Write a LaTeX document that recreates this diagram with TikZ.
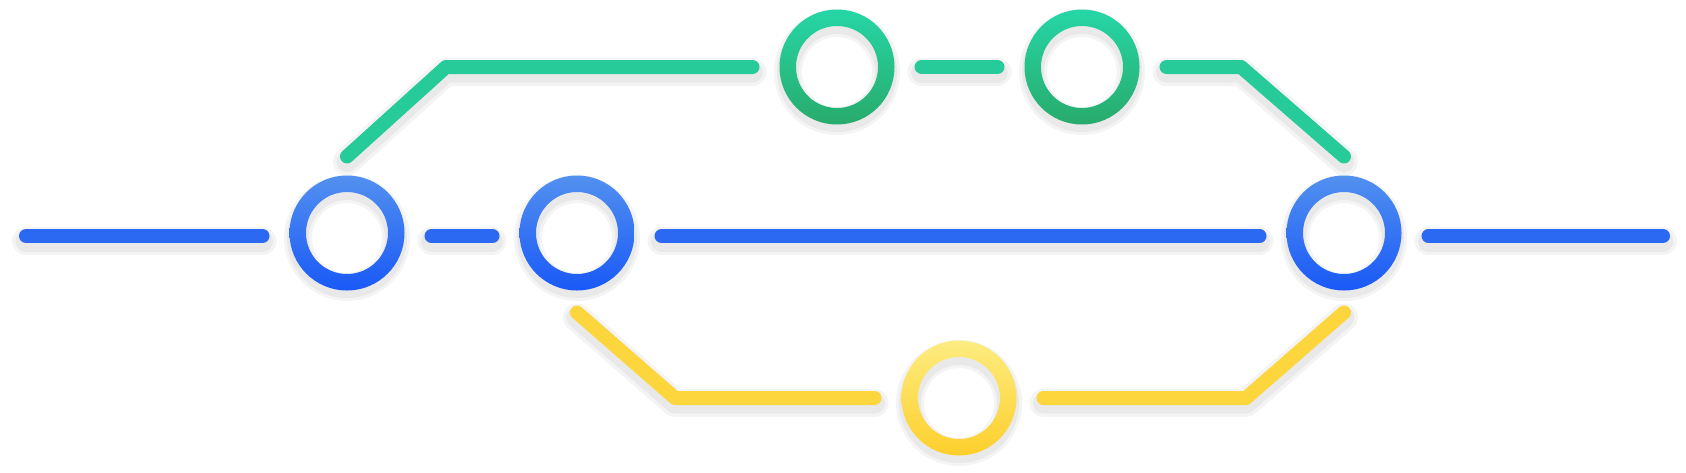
\documentclass[tikz,border=0pt]{standalone}
\usepackage{xcolor}
\usepackage{tikz}
\usetikzlibrary{positioning,calc}

\definecolor{bluetop}{HTML}{5290F0}
\definecolor{bluebot}{HTML}{1A59F6}
\definecolor{blueline}{HTML}{2C69F2}
\definecolor{greentop}{HTML}{26D6A6}
\definecolor{greenbot}{HTML}{28AB6C}
\definecolor{greenline}{HTML}{26CB99}
\definecolor{yellowtop}{HTML}{FDEC80}
\definecolor{yellowbot}{HTML}{FDCF2C}
\definecolor{yellowline}{HTML}{FDD63E}

\tikzset{
  commit/.style={circle,minimum size=115pt,inner sep=0pt,outer sep=27pt},
  track/.style={line width=14pt,line cap=round,line join=round,
    preaction={draw=black,opacity=0.045,line width=28pt,line cap=round,line join=round,transform canvas={yshift=-5pt}},
    preaction={draw=black,opacity=0.045,line width=21pt,line cap=round,line join=round,transform canvas={yshift=-5pt}}},
  ringshadow/.style={draw=black,opacity=0.045},
}

\begin{document}
\begin{tikzpicture}[x=1pt,y=-1pt]
\useasboundingbox (0,0) rectangle (1686,472);

% Commits
\node[commit] (m1) at (347,233) {};
\node[commit] (m2) at (577,233) {};
\node[commit] (m3) at (1344,233) {};
\node[commit] (f1) at (837,67) {};
\node[commit] (f2) at (1082,67) {};
\node[commit] (h1) at (959,398) {};

\coordinate (start) at (26,236);
\coordinate (end) at (1663,236);
\coordinate (fa) at (446,67);
\coordinate (fb) at (1241,67);
\coordinate (ha) at (675,398);
\coordinate (hb) at (1246,398);

% Main branch
\draw[track,blueline] (start) -- ([yshift=-3pt]m1.west);
\draw[track,blueline] ([yshift=-3pt]m1.east) -- ([yshift=-3pt]m2.west);
\draw[track,blueline] ([yshift=-3pt]m2.east) -- ([yshift=-3pt]m3.west);
\draw[track,blueline] ([yshift=-3pt]m3.east) -- (end);

% Feature branch
\draw[track,greenline] ([yshift=-8pt]m1.north) -- (fa) -- (f1.west);
\draw[track,greenline] (f1.east) -- (f2.west);
\draw[track,greenline] (f2.east) -- (fb) -- ([yshift=-8pt]m3.north);

% Hotfix branch
\draw[track,yellowline] ([yshift=5pt]m2.south) -- (ha) -- (h1.west);
\draw[track,yellowline] (h1.east) -- (hb) -- ([yshift=5pt]m3.south);

% Rings
\foreach \n/\col in {m1/blue,m2/blue,m3/blue,f1/green,f2/green,h1/yellow} {
  \draw[ringshadow,line width=28pt] ([yshift=-5pt]\n.center) circle[radius=49];
  \draw[ringshadow,line width=22pt] ([yshift=-5pt]\n.center) circle[radius=49];
  \shade[top color=\col top,bottom color=\col bot,even odd rule]
    (\n.center) circle[radius=57.5] circle[radius=41];
}
\end{tikzpicture}
\end{document}
